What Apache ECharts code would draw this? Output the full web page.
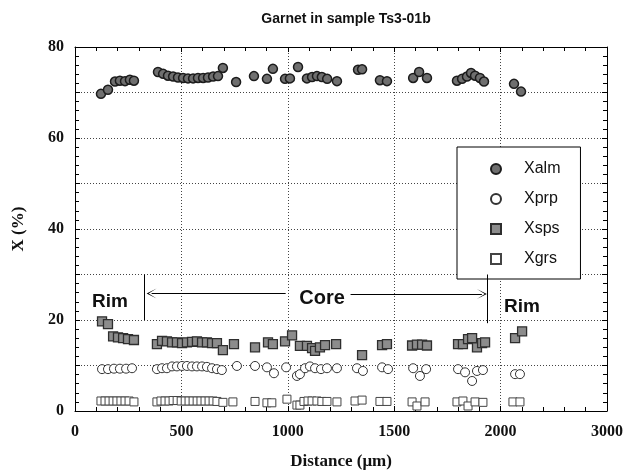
<!DOCTYPE html>
<html>
<head>
<meta charset="utf-8">
<title>Garnet in sample Ts3-01b</title>
<script src="https://cdn.jsdelivr.net/npm/echarts@6/dist/echarts.min.js"></script>
<style>
    html, body { margin: 0; padding: 0; background: #fff; }
    #chart { width: 639px; height: 475px; }
</style>
</head>
<body>
<div id="chart"></div>
<script>
// distance (um), mole fraction (%)
const xalm = [
    [122, 69.7], [155, 70.6], [188, 72.4], [211, 72.6], [235, 72.5], [258, 72.8], [277, 72.6],
    [390, 74.5], [414, 74.1], [437, 73.7], [461, 73.5], [484, 73.3], [508, 73.2], [531, 73.1],
    [555, 73.1], [578, 73.2], [602, 73.2], [625, 73.3], [649, 73.5], [672, 73.6], [695, 75.4],
    [757, 72.3], [841, 73.6], [902, 73.0], [930, 75.2], [987, 73.0], [1010, 73.1], [1048, 75.6],
    [1090, 73.1], [1114, 73.4], [1137, 73.6], [1160, 73.4], [1185, 73.0], [1231, 72.5],
    [1330, 75.0], [1349, 75.1], [1433, 72.7], [1466, 72.5], [1589, 73.2], [1617, 74.5], [1654, 73.2],
    [1795, 72.6], [1819, 73.0], [1842, 73.5], [1861, 74.3], [1880, 73.7], [1903, 73.2], [1922, 72.4],
    [2063, 71.9], [2096, 70.2]
];

const xprp = [
    [127, 9.2], [155, 9.2], [183, 9.3], [211, 9.3], [240, 9.3], [268, 9.4],
    [385, 9.2], [409, 9.4], [432, 9.4], [456, 9.8], [479, 9.8], [503, 9.9], [526, 9.9],
    [550, 9.8], [573, 9.8], [597, 9.8], [620, 9.7], [644, 9.4], [667, 9.2], [690, 9.0],
    [761, 9.9], [846, 9.9], [902, 9.6], [935, 8.3], [992, 9.6], [1043, 7.7], [1057, 8.1],
    [1081, 9.4], [1104, 9.8], [1128, 9.4], [1156, 9.2], [1184, 9.4], [1231, 9.4],
    [1325, 9.4], [1353, 8.8], [1443, 9.6], [1471, 9.2], [1589, 9.4], [1621, 7.7], [1650, 9.2],
    [1800, 9.2], [1833, 8.5], [1866, 6.6], [1889, 8.8], [1917, 9.0], [2068, 8.1], [2091, 8.1]
];

const xsps = [
    [127, 19.7], [155, 19.1], [179, 16.4], [202, 16.2], [226, 16.0], [249, 15.8], [277, 15.6],
    [385, 14.7], [409, 15.4], [432, 15.3], [456, 15.1], [479, 15.1], [503, 14.9], [526, 15.1],
    [550, 15.2], [573, 15.3], [597, 15.1], [620, 15.1], [644, 14.9], [667, 14.9], [695, 13.4],
    [747, 14.7], [846, 14.0], [907, 15.1], [930, 14.7], [987, 15.3], [1020, 16.6], [1057, 14.3],
    [1090, 14.3], [1114, 13.8], [1128, 13.2], [1151, 14.0], [1175, 14.5], [1227, 14.7],
    [1349, 12.3], [1443, 14.5], [1466, 14.7], [1584, 14.4], [1607, 14.6], [1631, 14.6], [1654, 14.4],
    [1800, 14.7], [1823, 14.7], [1847, 15.8], [1866, 16.0], [1889, 14.0], [1913, 14.9], [1927, 15.1],
    [2068, 16.0], [2101, 17.5]
];

const xgrs = [
    [122, 2.2], [141, 2.2], [160, 2.2], [179, 2.2], [197, 2.2], [216, 2.2], [235, 2.2], [254, 2.2], [277, 2.0],
    [385, 2.0], [404, 2.2], [423, 2.2], [442, 2.2], [461, 2.3], [480, 2.3], [499, 2.2], [518, 2.2],
    [536, 2.2], [555, 2.2], [574, 2.2], [592, 2.2], [611, 2.2], [630, 2.2], [649, 2.2], [667, 2.1], [695, 1.9],
    [742, 2.0], [846, 2.1], [902, 1.8], [925, 1.8], [996, 2.6], [1043, 1.3], [1057, 1.3],
    [1076, 2.1], [1095, 2.2], [1114, 2.2], [1137, 2.2], [1160, 2.1], [1184, 2.1], [1231, 2.0],
    [1316, 2.2], [1349, 2.4], [1433, 2.1], [1466, 2.1], [1584, 2.0], [1607, 1.1], [1645, 2.0],
    [1795, 2.0], [1823, 2.2], [1847, 1.1], [1880, 2.0], [1917, 1.9], [2058, 2.0], [2091, 2.0]
];

const seriesNames = ['Xalm', 'Xprp', 'Xsps', 'Xgrs'];
// x tick labels as printed on the original plot (the last one reads 3000)
const xTickLabels = ['0', '500', '1000', '1500', '2000', '3000'];
const yTickLabels = ['0', '', '20', '', '40', '', '60', '', '80'];

// rim / core annotation: [x, y] in data units
const rimLeftBar = [[324, 30], [324, 20]];
const rimRightBar = [[1936, 30], [1936, 19.3]];
const arrowLeft = [[990, 25.8], [360, 25.8]];
const arrowRight = [[1295, 25.7], [1912, 25.7]];
const zoneLabels = [
    { text: 'Rim', at: [164, 24.1], size: 19 },
    { text: 'Core', at: [1161, 24.8], size: 20 },
    { text: 'Rim', at: [2100, 23.0], size: 19 }
];

const SERIF = '"Liberation Serif", "Times New Roman", serif';
const SANS = '"Liberation Sans", Arial, Helvetica, sans-serif';
const CHEVRON = 'path://M5,0 L10,12 L5,2.5 L0,12 Z';

function markerSeries(name, data, symbol, size, fill, border, borderWidth) {
    return {
        name: name,
        type: 'scatter',
        data: data,
        symbol: symbol,
        symbolSize: size,
        itemStyle: { color: fill, borderColor: border, borderWidth: borderWidth, opacity: 1 },
        emphasis: { disabled: true }
    };
}

function buildAnnotationSeries() {
    return {
        name: 'annotation',
        type: 'scatter',
        data: [],
        silent: true,
        markLine: {
            silent: true,
            symbol: 'none',
            animation: false,
            label: { show: false },
            lineStyle: { color: '#000', width: 1, type: 'solid' },
            emphasis: { disabled: true },
            data: [
                [{ coord: rimLeftBar[0] }, { coord: rimLeftBar[1] }],
                [{ coord: rimRightBar[0] }, { coord: rimRightBar[1] }],
                [{ coord: arrowLeft[0] }, { coord: arrowLeft[1], symbol: CHEVRON, symbolSize: [10, 10] }],
                [{ coord: arrowRight[0] }, { coord: arrowRight[1], symbol: CHEVRON, symbolSize: [10, 10] }]
            ]
        },
        markPoint: {
            silent: true,
            symbol: 'circle',
            symbolSize: 0,
            animation: false,
            data: zoneLabels.map((z) => ({
                name: z.text,
                coord: z.at,
                label: {
                    show: true,
                    position: 'inside',
                    color: '#111',
                    fontFamily: SANS,
                    fontWeight: 'bold',
                    fontSize: z.size,
                    formatter: (p) => p.name
                }
            }))
        }
    };
}

function axisFrame(extra) {
    return Object.assign({
        type: 'value',
        axisLine: { show: true, onZero: false, lineStyle: { color: '#000', width: 1 } },
        axisTick: { show: true, inside: true, length: 5, lineStyle: { color: '#000' } },
        minorTick: { show: true, splitNumber: 5, length: 4, lineStyle: { color: '#000' } },
        splitLine: { show: false }
    }, extra);
}

const dotted = { show: true, lineStyle: { color: '#444', width: 1, type: [1, 2] } };

const option = {
    animation: false,
    backgroundColor: '#fff',
    title: {
        text: 'Garnet in sample Ts3-01b',
        left: 341,
        top: 7,
        textAlign: 'center',
        textStyle: { fontFamily: SANS, fontWeight: 'bold', fontSize: 14, color: '#111' }
    },
    grid: { left: 75, right: 32, top: 47, bottom: 63, containLabel: false },
    legend: {
        data: seriesNames,
        orient: 'vertical',
        left: 457,
        top: 147,
        padding: [14, 20, 12, 33],
        itemGap: 14,
        itemWidth: 10,
        itemHeight: 10,
        borderColor: '#000',
        borderWidth: 1,
        backgroundColor: '#fff',
        selectedMode: false,
        textStyle: { fontFamily: SANS, fontSize: 16, color: '#111', padding: [0, 0, 0, 18] }
    },
    xAxis: [
        axisFrame({
            position: 'bottom',
            min: 0,
            max: 2500,
            interval: 500,
            name: 'Distance (\u03bcm)',
            nameLocation: 'middle',
            nameGap: 42,
            nameTextStyle: { fontFamily: SERIF, fontWeight: 'bold', fontSize: 17, color: '#111' },
            axisLabel: {
                margin: 13,
                fontFamily: SERIF,
                fontWeight: 'bold',
                fontSize: 16,
                color: '#111',
                formatter: (v) => xTickLabels[Math.round(v / 500)] || ''
            },
            splitLine: dotted
        }),
        axisFrame({
            position: 'top',
            min: 0,
            max: 2500,
            interval: 500,
            axisLabel: { show: false }
        })
    ],
    yAxis: [
        axisFrame({
            position: 'left',
            min: 0,
            max: 80,
            interval: 10,
            name: 'X (%)',
            nameLocation: 'middle',
            nameGap: 48,
            nameRotate: 90,
            nameTextStyle: { fontFamily: SERIF, fontWeight: 'bold', fontSize: 17, color: '#111' },
            axisLabel: {
                margin: 11,
                fontFamily: SERIF,
                fontWeight: 'bold',
                fontSize: 16,
                color: '#111',
                formatter: (v) => yTickLabels[Math.round(v / 10)] || ''
            },
            splitLine: dotted
        }),
        axisFrame({
            position: 'right',
            min: 0,
            max: 80,
            interval: 10,
            axisLabel: { show: false }
        })
    ],
    series: [
        markerSeries('Xalm', xalm, 'circle', 9, '#6f6f6f', '#1c1c1c', 1.5),
        markerSeries('Xprp', xprp, 'circle', 9, '#ffffff', '#333333', 1),
        markerSeries('Xsps', xsps, 'rect', 9, '#8c8c8c', '#2e2e2e', 1.3),
        markerSeries('Xgrs', xgrs, 'rect', 8, '#ffffff', '#444444', 1),
        buildAnnotationSeries()
    ]
};

const chart = echarts.init(document.getElementById('chart'), null, { renderer: 'canvas' });
chart.setOption(option);
</script>
</body>
</html>
